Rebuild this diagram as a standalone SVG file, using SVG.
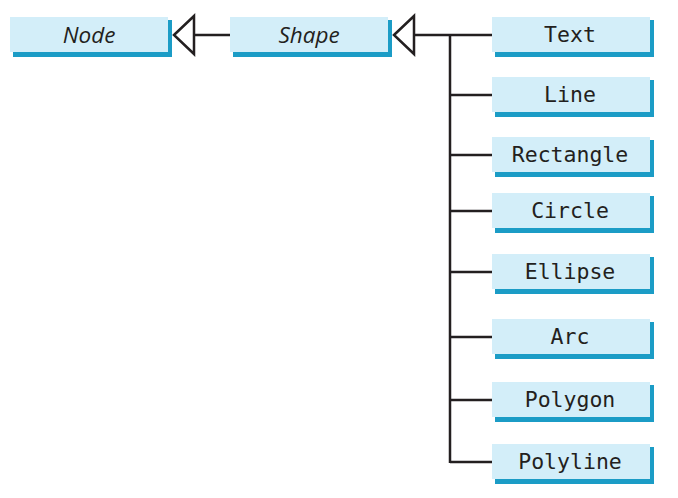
<svg xmlns="http://www.w3.org/2000/svg" width="678" height="498" viewBox="0 0 678 498">
<style>
.box{fill:#d3eef9}
.sh{fill:#1b9cc6}
.it{font-family:"Open Sans","Liberation Sans",sans-serif;font-style:italic;font-size:22.5px;fill:#231f20;text-anchor:middle}
.mono{font-family:"DejaVu Sans Mono","Liberation Mono",monospace;font-size:21.5px;fill:#231f20;text-anchor:middle}
.ln{stroke:#231f20;stroke-width:2.5;fill:none}
.tri{stroke:#231f20;stroke-width:2.5;fill:#fff;stroke-linejoin:miter}
</style>
<defs>
<g id="b">
<rect class="sh" x="3" y="3" width="159" height="37"/>
<rect class="box" x="0" y="0" width="158" height="35"/>
</g>
</defs>
<g id="connectors">
<line class="ln" x1="194" y1="35" x2="230" y2="35"/>
<polygon class="tri" points="174,35 194,16 194,54"/>
<line class="ln" x1="414" y1="35" x2="492" y2="35"/>
<polygon class="tri" points="394,35 414,16 414,54"/>
<line class="ln" x1="450" y1="35" x2="450" y2="463"/>
<line class="ln" x1="450" y1="95" x2="492" y2="95"/>
<line class="ln" x1="450" y1="155" x2="492" y2="155"/>
<line class="ln" x1="450" y1="211" x2="492" y2="211"/>
<line class="ln" x1="450" y1="272" x2="492" y2="272"/>
<line class="ln" x1="450" y1="337" x2="492" y2="337"/>
<line class="ln" x1="450" y1="400" x2="492" y2="400"/>
<line class="ln" x1="450" y1="462" x2="492" y2="462"/>
</g>
<g id="node-Node"><use href="#b" x="10" y="17"/><text class="it" x="89" y="43">Node</text></g>
<g id="node-Shape"><use href="#b" x="230" y="17"/><text class="it" x="309" y="43">Shape</text></g>
<g id="node-Text"><use href="#b" x="492" y="17"/><text class="mono" x="570" y="42">Text</text></g>
<g id="node-Line"><use href="#b" x="492" y="77"/><text class="mono" x="570" y="102">Line</text></g>
<g id="node-Rectangle"><use href="#b" x="492" y="137"/><text class="mono" x="570" y="162">Rectangle</text></g>
<g id="node-Circle"><use href="#b" x="492" y="193"/><text class="mono" x="570" y="218">Circle</text></g>
<g id="node-Ellipse"><use href="#b" x="492" y="254"/><text class="mono" x="570" y="279">Ellipse</text></g>
<g id="node-Arc"><use href="#b" x="492" y="319"/><text class="mono" x="570" y="344">Arc</text></g>
<g id="node-Polygon"><use href="#b" x="492" y="382"/><text class="mono" x="570" y="407">Polygon</text></g>
<g id="node-Polyline"><use href="#b" x="492" y="444"/><text class="mono" x="570" y="469">Polyline</text></g>
</svg>
